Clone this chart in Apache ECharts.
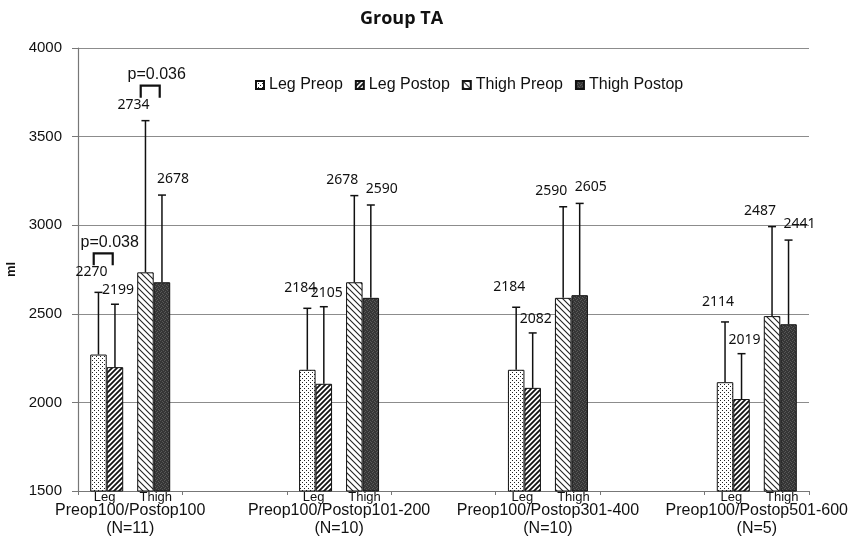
<!DOCTYPE html>
<html>
<head>
<meta charset="utf-8">
<script src="https://cdn.jsdelivr.net/npm/echarts@6/dist/echarts.min.js"></script>
<style>
  html, body { margin: 0; padding: 0; background: #fff; }
  #chart { width: 851px; height: 536px; }
</style>
</head>
<body>
<div id="chart"></div>
<script>
// Group labels on the category axis (blank slots separate the groups)
const groups = [
  'Preop100/Postop100\n(N=11)',
  'Preop100/Postop101-200\n(N=10)',
  'Preop100/Postop301-400\n(N=10)',
  'Preop100/Postop501-600\n(N=5)'
];
const seriesNames = ['Leg Preop', 'Leg Postop', 'Thigh Preop', 'Thigh Postop'];
const subLabels = ['Leg', 'Thigh'];

// Mean volume (ml) per group
const legPreop = [2270, 2184, 2184, 2114];
const legPostop = [2199, 2105, 2082, 2019];
const thighPreop = [2734, 2678, 2590, 2487];
const thighPostop = [2678, 2590, 2605, 2441];

// Standard deviation (upper error bar)
const legPreopSD = [351, 347, 353, 340];
const legPostopSD = [355, 435, 310, 256];
const thighPreopSD = [856, 489, 514, 505];
const thighPostopSD = [492, 524, 518, 475];

// Significance brackets: [group index, pair, text]
const pValues = [[0, 'leg', 'p=0.038'], [0, 'thigh', 'p=0.036']];

// Value axis ticks
const yTicks = [1500, 2000, 2500, 3000, 3500, 4000];

// ---- layout / style constants ----
const BAR_W = 16.5;
const PAIR_GAP = 14;
const PAIR_OFF = BAR_W + PAIR_GAP / 2;        // pair centre from group centre
const BAR_OFF = [-PAIR_OFF - BAR_W / 2, -PAIR_OFF + BAR_W / 2, PAIR_OFF - BAR_W / 2, PAIR_OFF + BAR_W / 2];
const LABEL_NUDGE = [[-7, -20], [3, -14], [-12, -16], [11, -16]];
const INK = '#111';

// Category slots: group, blank, group, blank, ...
const categories = [];
groups.forEach((g, i) => { if (i > 0) categories.push(''); categories.push(g); });
const slotOf = i => 2 * i;
const spread = arr => { const out = []; arr.forEach((v, i) => { if (i > 0) out.push(null); out.push(v); }); return out; };

// ---- fill patterns ----
function pattern(w, h, draw) {
  const c = document.createElement('canvas');
  c.width = w; c.height = h;
  const ctx = c.getContext('2d');
  draw(ctx, w, h);
  return { image: c, repeat: 'repeat' };
}
const dotFill = pattern(4, 4, (ctx, w, h) => {
  ctx.fillStyle = '#fff'; ctx.fillRect(0, 0, w, h);
  ctx.fillStyle = '#222';
  ctx.fillRect(0, 0, 1, 1); ctx.fillRect(2, 2, 1, 1);
});
const fwdHatch = pattern(5, 5, (ctx, w, h) => {
  ctx.fillStyle = '#fff'; ctx.fillRect(0, 0, w, h);
  ctx.strokeStyle = '#111'; ctx.lineWidth = 1.8;
  ctx.beginPath();
  ctx.moveTo(-1, 1); ctx.lineTo(1, -1);
  ctx.moveTo(0, h); ctx.lineTo(w, 0);
  ctx.moveTo(w - 1, h + 1); ctx.lineTo(w + 1, h - 1);
  ctx.stroke();
});
const backHatch = pattern(6, 6, (ctx, w, h) => {
  ctx.fillStyle = '#fff'; ctx.fillRect(0, 0, w, h);
  ctx.strokeStyle = '#222'; ctx.lineWidth = 1.1;
  ctx.beginPath();
  ctx.moveTo(0, 0); ctx.lineTo(w, h);
  ctx.moveTo(-1, h - 1); ctx.lineTo(1, h + 1);
  ctx.moveTo(w - 1, -1); ctx.lineTo(w + 1, 1);
  ctx.stroke();
});
const darkFill = pattern(4, 4, (ctx, w, h) => {
  ctx.fillStyle = '#363636'; ctx.fillRect(0, 0, w, h);
  ctx.fillStyle = '#585858';
  ctx.fillRect(0, 0, 1, 1); ctx.fillRect(2, 1, 1, 1); ctx.fillRect(1, 3, 1, 1); ctx.fillRect(3, 2, 1, 1);
});
const fills = [dotFill, fwdHatch, backHatch, darkFill];

const means = [legPreop, legPostop, thighPreop, thighPostop];
const sds = [legPreopSD, legPostopSD, thighPreopSD, thighPostopSD];

// ---- series ----
const series = [];
seriesNames.forEach((name, k) => {
  series.push({
    name: name,
    type: 'bar',
    barWidth: BAR_W,
    barGap: '0%',
    data: spread(means[k]),
    itemStyle: { color: fills[k], borderColor: INK, borderWidth: 1 },
    z: 2
  });
  if (k === 1) {
    // empty spacer keeps the Leg and Thigh pairs apart
    series.push({ name: '_gap', type: 'bar', barWidth: PAIR_GAP, barGap: '0%', data: [], silent: true });
  }
});

// error bars + value labels
seriesNames.forEach((name, k) => {
  series.push({
    type: 'custom',
    silent: true,
    z: 4,
    data: means[k].map((m, i) => [slotOf(i), m, sds[k][i]]),
    encode: { x: 0, y: 1 },
    renderItem(params, api) {
      const slot = api.value(0), m = api.value(1), sd = api.value(2);
      const base = api.coord([slot, m]);
      const top = api.coord([slot, m + sd]);
      const x = base[0] + BAR_OFF[k];
      return {
        type: 'group',
        children: [
          { type: 'line', shape: { x1: x, y1: base[1], x2: x, y2: top[1] }, style: { stroke: INK, lineWidth: 1.5 } },
          { type: 'line', shape: { x1: x - 4, y1: top[1], x2: x + 4, y2: top[1] }, style: { stroke: INK, lineWidth: 1.5 } },
          {
            type: 'text', x: x + LABEL_NUDGE[k][0], y: top[1] + LABEL_NUDGE[k][1],
            style: { text: String(m), fill: INK, fontSize: 14, fontFamily: 'Noto Sans', align: 'center', verticalAlign: 'middle' }
          }
        ]
      };
    }
  });
});

// Leg / Thigh sub-labels under each group
series.push({
  type: 'custom',
  silent: true,
  z: 4,
  clip: false,
  data: groups.map((g, i) => [slotOf(i), yTicks[0]]),
  encode: { x: 0, y: 1 },
  renderItem(params, api) {
    const p = api.coord([api.value(0), api.value(1)]);
    return {
      type: 'group',
      children: subLabels.map((t, j) => ({
        type: 'text', x: p[0] + (j === 0 ? -PAIR_OFF - 2 : PAIR_OFF + 2), y: p[1] + 6,
        style: { text: t, fill: INK, fontSize: 13, fontFamily: 'Liberation Sans', align: 'center', verticalAlign: 'middle' }
      }))
    };
  }
});

// significance brackets
series.push({
  type: 'custom',
  silent: true,
  z: 5,
  clip: false,
  data: pValues.map(p => [slotOf(p[0]), p[1] === 'leg' ? legPreop[p[0]] + legPreopSD[p[0]] : thighPreop[p[0]] + thighPreopSD[p[0]]]),
  encode: { x: 0, y: 1 },
  renderItem(params, api) {
    const pv = pValues[params.dataIndex];
    const isLeg = pv[1] === 'leg';
    const p = api.coord([api.value(0), api.value(1)]);
    const cx = p[0] + (isLeg ? -PAIR_OFF : PAIR_OFF);
    const bottom = p[1] + LABEL_NUDGE[isLeg ? 0 : 2][1] - 7;
    const topY = bottom - 12;
    return {
      type: 'group',
      children: [
        { type: 'polyline', shape: { points: [[cx - 13, bottom], [cx - 13, topY], [cx + 6, topY], [cx + 6, bottom]] },
          style: { stroke: INK, lineWidth: 2.2, fill: null } },
        { type: 'text', x: cx + 3, y: topY - 11,
          style: { text: pv[2], fill: INK, fontSize: 16, fontFamily: 'Liberation Sans', align: 'center', verticalAlign: 'middle' } }
      ]
    };
  }
});

const chart = echarts.init(document.getElementById('chart'), null, { renderer: 'canvas' });
chart.setOption({
  backgroundColor: '#fff',
  animation: false,
  title: {
    text: 'Group TA',
    left: 355, top: 5,
    textStyle: { fontSize: 18, fontWeight: 'bold', fontFamily: 'Open Sans', color: INK }
  },
  legend: {
    data: seriesNames,
    left: 250, top: 72,
    icon: 'rect',
    itemWidth: 8, itemHeight: 8, itemGap: 12,
    textStyle: { fontSize: 16, fontFamily: 'Liberation Sans', color: INK }
  },
  grid: { left: 78, right: 42, top: 48, bottom: 45, containLabel: false, outerBoundsMode: 'none' },
  xAxis: {
    type: 'category',
    data: categories,
    boundaryGap: true,
    axisLine: { lineStyle: { color: '#777', width: 1.2 } },
    axisTick: { show: true, length: 4, lineStyle: { color: '#777' } },
    axisLabel: { interval: 0, margin: 11, fontSize: 16, lineHeight: 18, fontFamily: 'Liberation Sans', color: INK }
  },
  yAxis: {
    type: 'value',
    min: yTicks[0], max: yTicks[yTicks.length - 1], interval: yTicks[1] - yTicks[0],
    name: 'ml', nameLocation: 'middle', nameRotate: 90, nameGap: 55,
    nameTextStyle: { fontSize: 13, fontWeight: 'bold', fontFamily: 'Liberation Sans', color: INK },
    axisLine: { show: true, lineStyle: { color: '#777', width: 1.2 } },
    axisTick: { show: true, length: 6, lineStyle: { color: '#777' } },
    axisLabel: { margin: 16, fontSize: 15, fontFamily: 'Liberation Sans', color: INK, formatter: v => String(v) },
    splitLine: { lineStyle: { color: '#8c8c8c', width: 1.2 } }
  },
  series: series
});
</script>
</body>
</html>
